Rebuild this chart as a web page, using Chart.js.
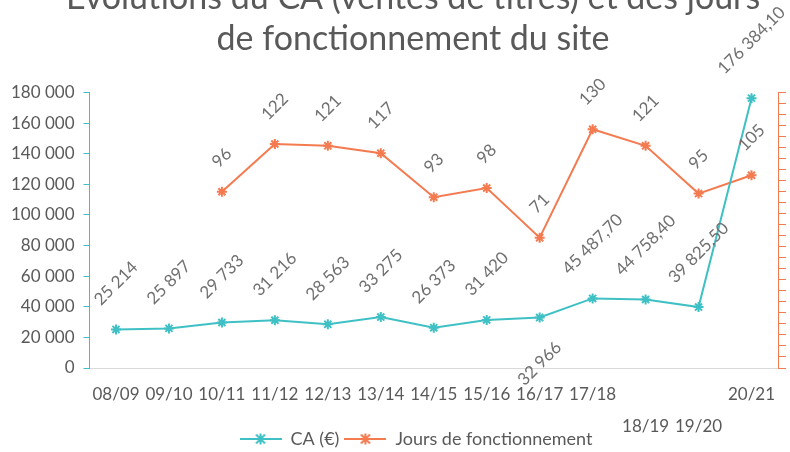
<!DOCTYPE html>
<html>
<head>
<meta charset="utf-8">
<script src="https://cdn.jsdelivr.net/npm/chart.js@4"></script>
<style>
  html, body { margin: 0; padding: 0; background: #fff; overflow: hidden; }
  #wrap { position: absolute; left: 0; top: -30px; width: 790px; height: 482px; }
</style>
</head>
<body>
<div id="wrap"><canvas id="chart"></canvas></div>
<script>
// Data
const seasons = ['08/09', '09/10', '10/11', '11/12', '12/13', '13/14', '14/15',
  '15/16', '16/17', '17/18', ['', '18/19'], ['', '19/20'], '20/21'];
const caValues = [25214, 25897, 29733, 31216, 28563, 33275, 26373, 31420,
  32966, 45487.70, 44758.40, 39825.50, 176384.10];
const joursValues = [null, null, 96, 122, 121, 117, 93, 98, 71, 130, 121, 95, 105];
// label drawn under the point instead of above
const caLabelBelow = [false, false, false, false, false, false, false, false,
  true, false, false, false, false];
const titleLines = ['Évolutions du CA (ventes de titres) et des jours',
  'de fonctionnement du site'];

const TEAL = '#3fc0c5';
const ORANGE = '#f47a50';
const GRAY = '#595959';
const FONT = 'Lato';

function frNumber(v) {
  const fixed = Number.isInteger(v) ? String(v) : v.toFixed(2);
  const parts = fixed.split('.');
  const intPart = parts[0].replace(/\B(?=(\d{3})+(?!\d))/g, ' ');
  return parts.length > 1 ? intPart + ',' + parts[1] : intPart;
}

// small line + star image for legend entries
function legendIcon(color) {
  const c = document.createElement('canvas');
  c.width = 42;
  c.height = 14;
  const g = c.getContext('2d');
  g.strokeStyle = color;
  g.lineWidth = 2;
  g.beginPath();
  g.moveTo(0, 7);
  g.lineTo(42, 7);
  g.stroke();
  const r = 4.5;
  g.beginPath();
  g.moveTo(21 - r, 7 - r); g.lineTo(21 + r, 7 + r);
  g.moveTo(21 + r, 7 - r); g.lineTo(21 - r, 7 + r);
  g.moveTo(21, 7 - r - 1); g.lineTo(21, 7 + r + 1);
  g.stroke();
  return c;
}

const dataLabels = {
  id: 'dataLabels',
  afterDatasetsDraw(chart) {
    const ctx = chart.ctx;
    ctx.save();
    ctx.font = '17px ' + FONT;
    ctx.fillStyle = '#707070';
    ctx.textAlign = 'center';
    ctx.textBaseline = 'middle';
    chart.data.datasets.forEach((ds, di) => {
      const meta = chart.getDatasetMeta(di);
      meta.data.forEach((pt, i) => {
        const v = ds.data[i];
        if (v === null || v === undefined) return;
        const text = frNumber(v);
        const w = ctx.measureText(text).width;
        const box = (w + 17) * 0.707;
        const off = 21 + box / 2;
        const below = di === 0 && caLabelBelow[i];
        ctx.save();
        ctx.translate(pt.x, below ? pt.y + off : pt.y - off);
        ctx.rotate(-Math.PI / 4);
        ctx.fillText(text, 0, 0);
        ctx.restore();
      });
    });
    ctx.restore();
  }
};

// title and legend sit a bit right of centre; second row of x labels hangs into the legend band
const layoutTweaks = {
  id: 'layoutTweaks',
  afterLayout(chart) {
    chart.titleBlock.left += 19;
    chart.titleBlock.right += 19;
    chart.legend.left += 22;
    chart.legend.right += 22;
    chart.scales.x.bottom = chart.height;
  }
};

const ctx = document.getElementById('chart').getContext('2d');
new Chart(ctx, {
  type: 'line',
  data: {
    labels: seasons,
    datasets: [
      {
        label: 'CA (€)',
        data: caValues,
        yAxisID: 'y',
        borderColor: TEAL,
        backgroundColor: TEAL,
        borderWidth: 2,
        pointStyle: 'star',
        pointRadius: 5,
        pointBorderWidth: 2,
        fill: false,
      },
      {
        label: 'Jours de fonctionnement',
        data: joursValues,
        yAxisID: 'y1',
        borderColor: ORANGE,
        backgroundColor: ORANGE,
        borderWidth: 2,
        pointStyle: 'star',
        pointRadius: 5,
        pointBorderWidth: 2,
        fill: false,
      },
    ],
  },
  options: {
    responsive: true,
    maintainAspectRatio: false,
    animation: false,
    layout: { padding: { left: 2, right: 4, top: 0, bottom: -6 } },
    plugins: {
      title: {
        display: true,
        text: titleLines,
        color: GRAY,
        font: { family: FONT, size: 34, weight: 'normal', lineHeight: 1.2 },
        padding: { top: 8, bottom: 33 },
      },
      legend: {
        display: true,
        position: 'bottom',
        labels: {
          color: GRAY,
          font: { family: FONT, size: 18 },
          usePointStyle: true,
          pointStyleWidth: 42,
          boxHeight: 14,
          padding: 5,
          generateLabels(chart) {
            const items = Chart.defaults.plugins.legend.labels.generateLabels(chart);
            items.forEach((it, i) => {
              it.pointStyle = legendIcon(i === 0 ? TEAL : ORANGE);
            });
            return items;
          },
        },
      },
      tooltip: { enabled: false },
    },
    scales: {
      x: {
        offset: true,
        grid: { display: false, drawTicks: false, tickLength: 0 },
        border: { display: true, color: '#d9d9d9', width: 1 },
        ticks: {
          color: GRAY,
          font: { family: FONT, size: 17, lineHeight: 1.88 },
          maxRotation: 0,
          autoSkip: false,
          padding: 11,
        },
        afterFit(scale) {
          scale.height = 57;
        },
      },
      y: {
        position: 'left',
        min: 0,
        max: 180000,
        border: { display: true, color: TEAL, width: 1 },
        grid: { drawOnChartArea: false, color: TEAL, tickLength: 6 },
        ticks: {
          stepSize: 20000,
          color: GRAY,
          font: { family: FONT, size: 17 },
          padding: 9,
          callback: (v) => frNumber(v),
        },
      },
      y1: {
        position: 'right',
        min: 0,
        max: 150,
        border: { display: true, color: ORANGE, width: 1 },
        grid: { drawOnChartArea: false, color: ORANGE, tickLength: 8 },
        ticks: { stepSize: 6, display: false },
      },
    },
  },
  plugins: [dataLabels, layoutTweaks],
});
</script>
</body>
</html>
